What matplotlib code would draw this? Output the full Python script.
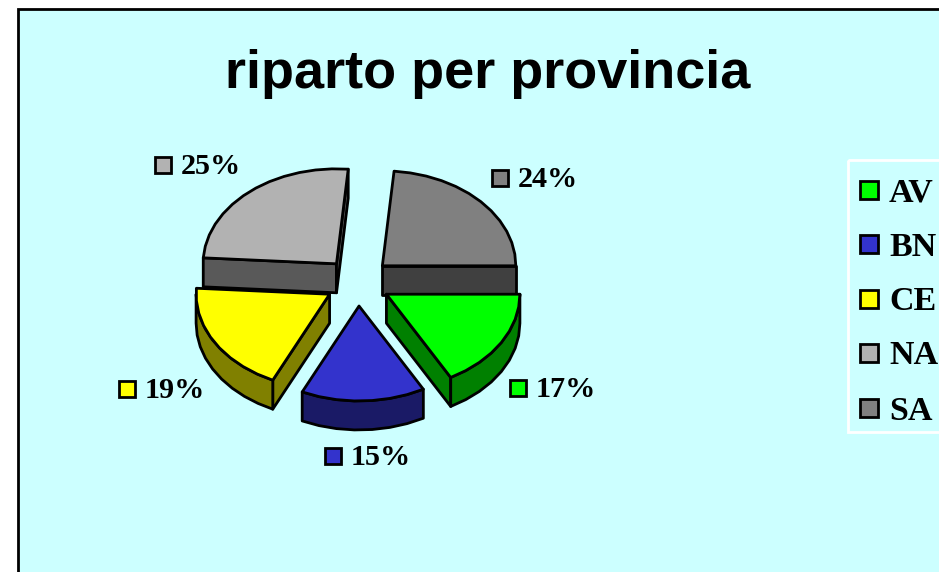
import numpy as np
import matplotlib
matplotlib.use("Agg")
import matplotlib.pyplot as plt
from matplotlib.patches import Polygon, Rectangle

title = "riparto per provincia"
province = ["AV", "BN", "CE", "NA", "SA"]
# labels show these rounded
percent = [17.0, 15.0, 19.0, 25.4, 23.6]
top_colors = ["#00FF00", "#3333CC", "#FFFF00", "#B2B2B2", "#808080"]
side_colors = ["#008000", "#1A1A66", "#808000", "#595959", "#404040"]

# pixel layout
BG = "#CCFFFF"
CX, CY = 358, 282
RX, RY = 133.5, 95
DEPTH = 29
EXPLODE_X, EXPLODE_Y = 33, 24
LW = 2.0
SERIF = "Liberation Serif"
label_swatch = {"AV": (509.5, 379.5), "BN": (324.5, 447.5), "CE": (118.5, 380.5), "NA": (154.5, 156.5), "SA": (491.5, 169.5)}
legend_y = [189.5, 243.5, 298.5, 352.5, 407.5]

fig = plt.figure(figsize=(9.39, 5.72), dpi=100, facecolor="white")
ax = fig.add_axes([0, 0, 1, 1])
ax.set_xlim(0, 939)
ax.set_ylim(572, 0)
ax.axis("off")

ax.add_patch(Rectangle((18, 9), 960, 600, facecolor=BG, edgecolor="black", linewidth=LW))

ax.text(488, 74, title, family="Liberation Sans", weight="bold", fontsize=38.9,
        ha="center", va="center", color="black")


def arc(x0, y0, a1, a2):
    # a bit coarse on purpose, the original outline is not smooth
    n = max(2, int(abs(a2 - a1) / 7) + 1)
    t = np.radians(np.linspace(a1, a2, n))
    return np.column_stack([x0 + RX * np.cos(t), y0 + RY * np.sin(t)])


def draw_poly(points, color, z):
    ax.add_patch(Polygon(points, closed=True, facecolor=color, edgecolor="black",
                         linewidth=LW, joinstyle="round", zorder=z))


def draw_slice(i, a1, a2, z):
    mid = np.radians((a1 + a2) / 2)
    x0 = CX + EXPLODE_X * np.cos(mid)
    y0 = CY + EXPLODE_Y * np.sin(mid)
    rim = arc(x0, y0, a1, a2)
    drop = np.array([0, DEPTH])
    apex = np.array([x0, y0])

    # cut walls, only the ones turned towards the viewer
    if np.sin(np.radians(a1 - 90)) > 0:
        draw_poly([apex, rim[0], rim[0] + drop, apex + drop], side_colors[i], z)
    if np.cos(np.radians(a2)) > 0:
        draw_poly([apex, rim[-1], rim[-1] + drop, apex + drop], side_colors[i], z)

    # outer rim
    lo, hi = max(a1, 0), min(a2, 180)
    if hi > lo:
        front = arc(x0, y0, lo, hi)
        draw_poly(np.vstack([front, front[::-1] + drop]), side_colors[i], z)

    draw_poly(np.vstack([apex, rim]), top_colors[i], z + 0.5)


edges = np.cumsum([0] + percent) * 3.6
# back slices first
for z, i in enumerate([4, 3, 2, 0, 1]):
    draw_slice(i, edges[i], edges[i + 1], z + 2)

for name, color, value in zip(province, top_colors, percent):
    sx, sy = label_swatch[name]
    ax.add_patch(Rectangle((sx, sy), 16, 16, facecolor=color, edgecolor="black", linewidth=LW, zorder=10))
    ax.text(sx + 26, sy + 7, f"{round(value)}%", family=SERIF, weight="bold", fontsize=21.7,
            ha="left", va="center_baseline", zorder=10)

# legend box runs off the right side
ax.add_patch(Rectangle((848, 160), 120, 272, facecolor="none", edgecolor="white", linewidth=LW, zorder=9))
for name, color, y in zip(province, top_colors, legend_y):
    ax.add_patch(Rectangle((859.5, y - 9), 18, 18, facecolor=color, edgecolor="black", linewidth=LW, zorder=10))
    ax.text(889, y, name, family=SERIF, weight="bold", fontsize=24.5,
            ha="left", va="center_baseline", zorder=10)

fig.savefig("out.png", dpi=100)
